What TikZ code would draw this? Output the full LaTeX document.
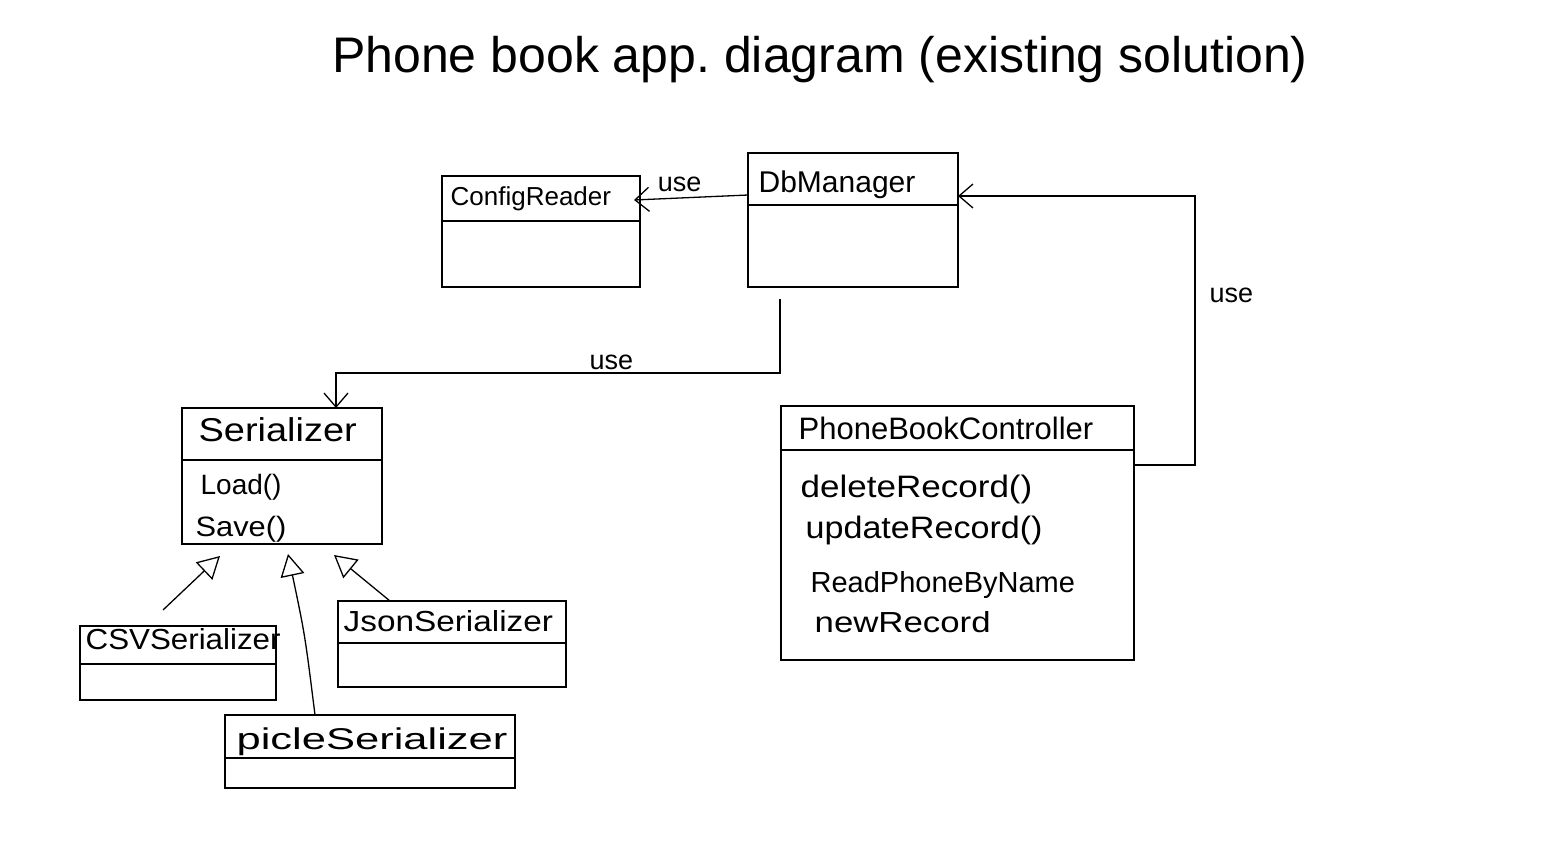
\documentclass[tikz,border=0pt]{standalone}
\usepackage{fontspec}
\setmainfont{Liberation Sans}
\usetikzlibrary{arrows.meta,calc}
\newcommand{\fs}[1]{\fontsize{#1}{#1}\selectfont}
\begin{document}
\frenchspacing
\begin{tikzpicture}[x=1pt,y=-1pt,
  line width=1.3pt,
  classbox/.style={draw, rectangle, anchor=north west, inner sep=0pt, outer sep=0pt},
  cname/.style={anchor=base west, inner sep=0pt},
  lbl/.style={inner sep=0pt, font=\fs{27}},
  usearr/.style={draw, -{Straight Barb[length=14pt,width=24pt,line width=1.3pt]}},
  inh/.style={draw, -{Triangle[open,length=22pt,width=24pt,line width=1.3pt]}}
]
\useasboundingbox[fill=white] (0,0) rectangle (1567,855);

% title
\node[inner sep=0pt, anchor=base, font=\fs{50}] (title) at (820,72) {Phone book app. diagram (existing solution)};

% class boxes
\node[classbox, minimum width=198pt, minimum height=111pt] (cr) at (442,176) {};
\node[classbox, minimum width=210pt, minimum height=134pt] (db) at (748,153) {};
\node[classbox, minimum width=200pt, minimum height=136pt] (ser) at (182,408) {};
\node[classbox, minimum width=196pt, minimum height=74pt] (csv) at (80,626) {};
\node[classbox, minimum width=228pt, minimum height=86pt] (json) at (338,601) {};
\node[classbox, minimum width=290pt, minimum height=73pt] (pick) at (225,715) {};
\node[classbox, minimum width=353pt, minimum height=254pt] (pbc) at (781,406) {};

% dividers
\draw ($(cr.north west)+(0,45)$) -- ($(cr.north east)+(0,45)$);
\draw ($(db.north west)+(0,52)$) -- ($(db.north east)+(0,52)$);
\draw ($(ser.north west)+(0,52)$) -- ($(ser.north east)+(0,52)$);
\draw ($(csv.north west)+(0,38)$) -- ($(csv.north east)+(0,38)$);
\draw ($(json.north west)+(0,42)$) -- ($(json.north east)+(0,42)$);
\draw ($(pick.north west)+(0,43)$) -- ($(pick.north east)+(0,43)$);
\draw ($(pbc.north west)+(0,44)$) -- ($(pbc.north east)+(0,44)$);

% texts
\node[cname, font=\fs{26}] (tcr) at (450,205) {ConfigReader};
\node[cname, font=\fs{30}] (tdb) at (758,192) {DbManager};
\node[cname, font=\fs{33}] (tser) at (198,441) {\scalebox{1.15}[1]{Serializer}};
\node[cname, font=\fs{28}] (tload) at (200,494) {Load()};
\node[cname, font=\fs{28}] (tsave) at (195,536) {\scalebox{1.1}[1]{Save()}};
\node[cname, font=\fs{29}] (tcsv) at (85,649) {\scalebox{1.08}[1]{CSVSerializer}};
\node[cname, font=\fs{29}] (tjson) at (343,631) {\scalebox{1.15}[1]{JsonSerializer}};
\node[cname, font=\fs{30}] (tpick) at (236,749) {\scalebox{1.45}[1]{picleSerializer}};
\node[cname, font=\fs{31}] (tpbc) at (798,439) {PhoneBookController};
\node[cname, font=\fs{31}] (m1) at (800,497) {\scalebox{1.13}[1]{deleteRecord()}};
\node[cname, font=\fs{31}] (m2) at (805,538) {\scalebox{1.1}[1]{updateRecord()}};
\node[cname, font=\fs{29}] (m3) at (810,592) {ReadPhoneByName};
\node[cname, font=\fs{29}] (m4) at (814,632) {\scalebox{1.2}[1]{newRecord}};

% use connectors
\path[usearr] ($(db.north west)+(0,42)$) -- ($(cr.north east)+(-6,24)$)
  node[lbl, pos=0.6, above=6pt] (u1) {use};
\path[usearr] ($(pbc.north east)+(0,59)$) -- ++(61,0) |- ($(db.north east)+(0,43)$)
  node[lbl, pos=0.316, right=14pt] (u2) {use};
\path[usearr] ($(db.south west)+(32,12)$) -- ++(0,74) -| ($(ser.north west)+(154,0)$)
  node[lbl, pos=0.19, above=3pt] (u3) {use};

% inheritance
\path[inh] ($(csv.north west)+(83,-16)$) -- ($(ser.south west)+(38,12)$);
\path[inh] ($(pick.north west)+(90,0)$) .. controls ($(pick.north west)+(80,-80)$) .. ($(ser.south west)+(106,10)$);
\path[inh] ($(json.north west)+(52,0)$) -- ($(ser.south west)+(152,11)$);
\end{tikzpicture}
\end{document}
